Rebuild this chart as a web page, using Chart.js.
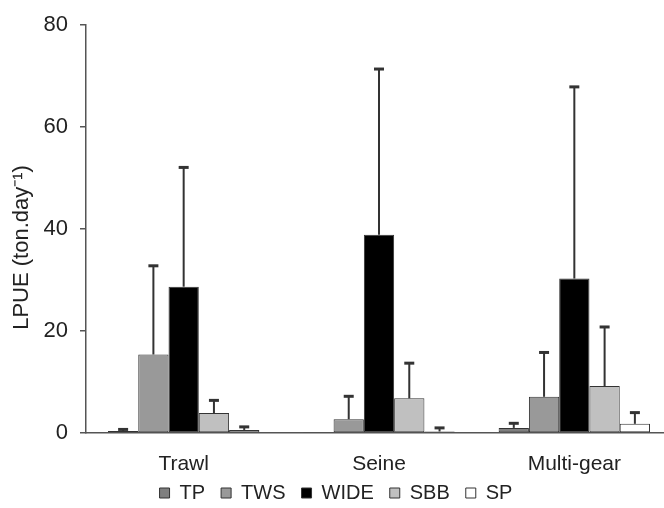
<!DOCTYPE html>
<html>
<head>
<meta charset="utf-8">
<script src="https://cdn.jsdelivr.net/npm/chart.js@4/dist/chart.umd.min.js"></script>
<style>
  html, body { margin: 0; padding: 0; background: #fff; overflow: hidden; }
  #wrap { position: relative; width: 672px; height: 508px; }
</style>
</head>
<body>
<div id="wrap"><canvas id="c" width="672" height="508"></canvas></div>
<script>
// ---- data ----
const categories = ["Trawl", "Seine", "Multi-gear"];
const seriesNames = ["TP", "TWS", "WIDE", "SBB", "SP"];
const TP   = [0.4, 0.2, 1.0];
const TWS  = [15.4, 2.7, 7.1];
const WIDE = [28.7, 38.9, 30.3];
const SBB  = [3.9, 6.8, 9.2];
const SP   = [0.6, 0.3, 1.8];
// standard deviations (error bar heights above the mean)
const TP_sd   = [0.3, 0.0, 0.9];
const TWS_sd  = [17.4, 4.5, 8.7];
const WIDE_sd = [23.4, 32.5, 37.6];
const SBB_sd  = [2.5, 6.9, 11.6];
const SP_sd   = [0.6, 0.7, 2.2];
const yTicks = [0, 20, 40, 60, 80];

const values = [TP, TWS, WIDE, SBB, SP];
const errors = [TP_sd, TWS_sd, WIDE_sd, SBB_sd, SP_sd];
const fills = ["#7f7f7f", "#999999", "#000000", "#c0c0c0", "#ffffff"];

const errorBars = {
  id: "errorBars",
  afterDatasetsDraw(chart) {
    const ctx = chart.ctx;
    const ys = chart.scales.y;
    ctx.save();
    ctx.strokeStyle = "#333333";
    chart.data.datasets.forEach((ds, i) => {
      const meta = chart.getDatasetMeta(i);
      meta.data.forEach((bar, j) => {
        const sd = ds.sd[j];
        if (!sd) return;
        const top = ys.getPixelForValue(ds.data[j] + sd);
        ctx.lineWidth = 2;
        ctx.beginPath();
        ctx.moveTo(bar.x, bar.y);
        ctx.lineTo(bar.x, top);
        ctx.stroke();
        ctx.lineWidth = 3;
        ctx.beginPath();
        ctx.moveTo(bar.x - 5, top);
        ctx.lineTo(bar.x + 5, top);
        ctx.stroke();
      });
    });
    ctx.restore();
  }
};

// nudge the legend box up a little after layout
const legendNudge = {
  id: "legendNudge",
  afterLayout(chart) {
    const lg = chart.legend;
    if (lg) { lg.top -= 12; lg.bottom -= 12; }
  }
};

Chart.defaults.font.family = "'Liberation Sans', Arial, sans-serif";
Chart.defaults.color = "#222";

new Chart(document.getElementById("c"), {
  type: "bar",
  data: {
    labels: categories,
    datasets: seriesNames.map((n, i) => ({
      label: n,
      data: values[i],
      sd: errors[i],
      backgroundColor: fills[i],
      borderColor: "#333333",
      borderWidth: 1,
      borderSkipped: false,
      categoryPercentage: 0.775,
      barPercentage: 1.0
    }))
  },
  options: {
    responsive: false,
    animation: false,
    layout: { padding: { left: 0, top: 9, right: 0, bottom: -17 } },
    plugins: {
      tooltip: { enabled: false },
      legend: {
        position: "bottom",
        labels: {
          boxWidth: 10,
          boxHeight: 10,
          padding: 16,
          font: { size: 20 },
          color: "#222"
        }
      }
    },
    scales: {
      x: {
        grid: { display: false, drawTicks: false },
        border: { display: true, color: "#555", width: 1.5 },
        ticks: { padding: 19, font: { size: 21 }, color: "#222" },
        afterFit(scale) { scale.height = 46; }
      },
      y: {
        min: 0, max: 80,
        afterBuildTicks(scale) { scale.ticks = yTicks.map(v => ({ value: v })); },
        afterFit(scale) { scale.width = 86; },
        grid: { drawOnChartArea: false, drawTicks: true, tickLength: 6, color: "#555", lineWidth: 1.5 },
        border: { display: true, color: "#555", width: 1.5 },
        ticks: { padding: 12, font: { size: 22 }, color: "#222" },
        title: {
          display: true,
          text: "LPUE (ton.day\u207B\u00B9)      ",
          font: { size: 22 },
          color: "#222",
          padding: { top: 9, bottom: 2 }
        }
      }
    }
  },
  plugins: [errorBars, legendNudge]
});
</script>
</body>
</html>
